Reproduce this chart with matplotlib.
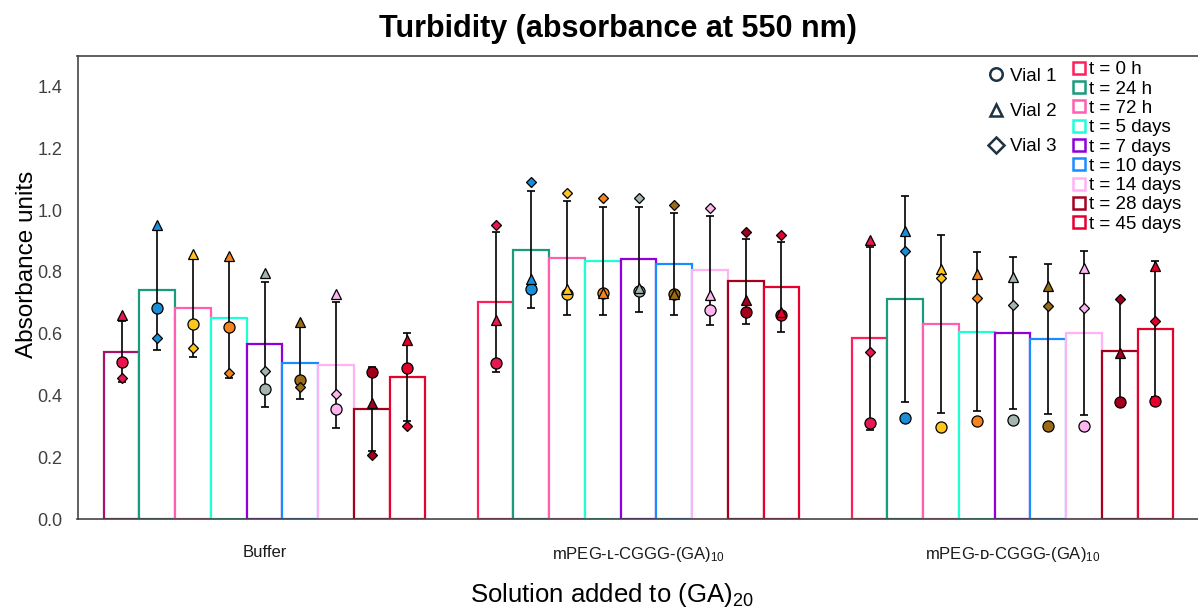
import numpy as np
import matplotlib.pyplot as plt
from matplotlib.lines import Line2D

plt.rcParams['font.family'] = ['Liberation Sans', 'DejaVu Sans']
plt.rcParams['mathtext.fontset'] = 'custom'
plt.rcParams['mathtext.rm'] = 'Liberation Sans'
plt.rcParams['mathtext.it'] = 'Liberation Sans:italic'

# solutions and sampling times
groups = ["Buffer", "mPEG-\u029f-CGGG-(GA)$_{10}$", "mPEG-\u1d05-CGGG-(GA)$_{10}$"]
times = ["t = 0 h", "t = 24 h", "t = 72 h", "t = 5 days", "t = 7 days",
         "t = 10 days", "t = 14 days", "t = 28 days", "t = 45 days"]

# mean absorbance and SD (n = 3 vials)
buffer_mean = [0.542, 0.742, 0.684, 0.650, 0.566, 0.505, 0.499, 0.355, 0.459]
buffer_sd = [0.100, 0.195, 0.160, 0.192, 0.202, 0.116, 0.204, 0.136, 0.143]
l_mean = [0.702, 0.872, 0.845, 0.836, 0.841, 0.825, 0.805, 0.769, 0.751]
l_sd = [0.227, 0.190, 0.184, 0.175, 0.170, 0.166, 0.176, 0.137, 0.145]
d_mean = [0.585, 0.712, 0.631, 0.607, 0.602, 0.583, 0.602, 0.544, 0.615]
d_sd = [0.297, 0.333, 0.287, 0.256, 0.245, 0.243, 0.265, 0.168, 0.220]

# individual vials
buffer_v1 = [0.508, 0.683, 0.632, 0.621, 0.420, 0.450, 0.356, 0.477, 0.490]
buffer_v2 = [0.661, 0.953, 0.859, 0.850, 0.796, 0.637, 0.728, 0.375, 0.580]
buffer_v3 = [0.458, 0.586, 0.555, 0.472, 0.480, 0.427, 0.404, 0.207, 0.301]
l_v1 = [0.504, 0.745, 0.728, 0.731, 0.737, 0.729, 0.677, 0.670, 0.661]
l_v2 = [0.645, 0.777, 0.745, 0.733, 0.748, 0.729, 0.724, 0.710, 0.669]
l_v3 = [0.953, 1.090, 1.057, 1.039, 1.039, 1.017, 1.007, 0.928, 0.918]
d_v1 = [0.310, 0.326, 0.299, 0.318, 0.321, 0.301, 0.301, 0.378, 0.382]
d_v2 = [0.904, 0.931, 0.809, 0.793, 0.783, 0.753, 0.812, 0.537, 0.818]
d_v3 = [0.542, 0.869, 0.780, 0.715, 0.693, 0.688, 0.683, 0.713, 0.642]

means = [buffer_mean, l_mean, d_mean]
sds = [buffer_sd, l_sd, d_sd]
vials = [[buffer_v1, buffer_v2, buffer_v3], [l_v1, l_v2, l_v3], [d_v1, d_v2, d_v3]]

bar_colors = ['#FF1F5B', '#1A9B7D', '#FF5FB0', '#1FFFD5', '#8F00DB',
              '#1A8CFF', '#FFB3F5', '#A5001F', '#E8002D']
dot_colors = ['#E8174F', '#1A8FD8', '#FFC51F', '#F28522', '#A3B5AC',
              '#9A6B17', '#FFB5F0', '#A3001E', '#E5002B']
vial_markers = ['o', '^', 'D']
vial_sizes = [8, 7.5, 5.5]

fig = plt.figure(figsize=(11.98, 6.14), dpi=100)
ax = fig.add_axes([77.5 / 1198, 95 / 614, 1122 / 1198, 463.3 / 614])

w = 0.0955
for g in range(3):
    for i in range(9):
        x = g + (i - 4) * w
        ec = bar_colors[i]
        if g == 0 and i == 0:
            ec = '#A5136B'
        ax.bar(x, means[g][i], width=w, facecolor='white', edgecolor=ec,
               linewidth=1.6, zorder=2)
        ax.errorbar(x, means[g][i], yerr=sds[g][i], color='black', lw=1.2,
                    capsize=2.8, capthick=1.2, zorder=3)
        for v in range(3):
            ax.plot(x, vials[g][v][i], marker=vial_markers[v], ms=vial_sizes[v],
                    mfc=dot_colors[i], mec='black', mew=0.9, ls='none', zorder=4)

ax.set_xlim(-0.5, 2.5)
ax.set_ylim(0, 1.5)
ax.set_yticks(np.arange(0, 1.41, 0.2))
ax.set_yticklabels([f"{t:.1f}" for t in np.arange(0, 1.41, 0.2)])
ax.set_xticks(range(3))
ax.set_xticklabels(groups)
ax.tick_params(axis='y', length=0, labelsize=13, labelcolor='#404040', pad=11)
ax.tick_params(axis='x', length=0, labelsize=12, labelcolor='#1a1a1a', pad=19)
ax.spines['right'].set_visible(False)
for s in ['left', 'top', 'bottom']:
    ax.spines[s].set_color('#444444')
    ax.spines[s].set_linewidth(1.2)

ax.set_ylabel("Absorbance units", fontsize=17.5)
ax.yaxis.set_label_coords(-0.0355, 0.55)
fig.text(612 / 1198, 1 - 595 / 614, "Solution added to (GA)$_{20}$", fontsize=18.5,
         ha='center', va='center')
fig.text(618 / 1198, 1 - 29 / 614, "Turbidity (absorbance at 550 nm)", fontsize=22,
         fontweight='bold', ha='center', va='center')

vial_handles = [Line2D([], [], marker=m, ms=s, mfc='none', mec='#1C3344', mew=1.8, ls='none')
                for m, s in zip(vial_markers, [9, 9, 8])]
leg1 = ax.legend(vial_handles, ["Vial 1", "Vial 2", "Vial 3"], loc='upper left',
                 bbox_to_anchor=(0.8, 0.994), frameon=False, fontsize=13.5,
                 labelspacing=0.96, handletextpad=0.15, handlelength=1.2, borderpad=0)
ax.add_artist(leg1)

time_handles = [Line2D([], [], marker='s', ms=8, mfc='white', mec=c, mew=1.8, ls='none')
                for c in bar_colors]
ax.legend(time_handles, times, loc='upper left', bbox_to_anchor=(0.877, 1.008),
          frameon=False, fontsize=13.5, labelspacing=0.115, handletextpad=0.05,
          handlelength=0.9, borderpad=0)

fig.savefig("out.png", dpi=100)
